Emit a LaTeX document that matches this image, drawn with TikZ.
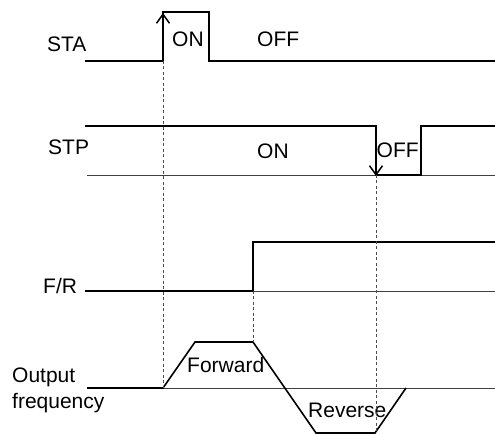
\documentclass[tikz,border=0pt]{standalone}
\usepackage{fontspec}
\setmainfont{Liberation Sans}
\usepackage{tikz}
\usetikzlibrary{positioning, arrows.meta}

\tikzset{
    signal/.style={line width=1.6pt, line join=miter},
    refline/.style={line width=0.7pt, black!75},
    guide/.style={dash pattern=on 3pt off 2.5pt, black!70, line width=0.7pt},
    edgearrow/.style={line width=1.5pt, -{Straight Barb[length=9pt, width=13pt]}},
    lbl/.style={inner sep=0pt, anchor=base west, font=\fontsize{21}{25}\selectfont},
}

\begin{document}
\begin{tikzpicture}[x=1pt, y=-1pt]
        \useasboundingbox (0,0) rectangle (495,435);

        % Key points of the edges
        \coordinate (starise) at (163,61);
        \coordinate (stahigh) at (163,13);
        \coordinate (stptop) at (376,126);
        \coordinate (stpfall) at (376,175);
        \coordinate (frrise) at (253,291);
        \coordinate (fwdend) at (253,342);
        \coordinate (outstart) at (163,388);
        \coordinate (revend) at (376,433);

        % STA
        \draw[signal] (85,61) -- (163,61) -- (163,12) -- (209,12) -- (209,61) -- (495,61);
        \draw[edgearrow] (starise) -- (stahigh);
        \node[lbl] (sta) at (47,52) {STA};
        \node[lbl] (staon) at (172,47) {ON};
        \node[lbl] (staoff) at (257,47) {OFF};

        % STP
        \draw[refline] (87,175) -- (495,175);
        \draw[signal] (85,126) -- (376,126) -- (376,175) -- (421,175) -- (421,126) -- (495,126);
        \draw[edgearrow] (stptop) -- ([yshift=-1pt]stpfall);
        \node[lbl] (stp) at (48,155) {STP};
        \node[lbl] (stpon) at (257,159) {ON};
        \node[lbl] (stpoff) at (376.5,158) {OFF};

        % F/R
        \draw[refline] (253,291) -- (495,291);
        \draw[signal] (85,291) -- (253,291) -- (253,242) -- (495,242);
        \node[lbl] (fr) at (43,294) {F/R};

        % Output frequency
        \draw[refline] (87,388) -- (495,388);
        \draw[signal] (87,388) -- (163,388) -- (195,342) -- (253,342)
            -- (316,433) -- (375,433) -- (406,388);
        \node[lbl] (outa) at (12,382) {Output};
        \node[lbl] (outb) at (12,408) {frequency};
        \node[lbl] (fwd) at (187,372) {Forward};
        \node[lbl] (rev) at (308,417) {Reverse};

        % Dashed guides
        \draw[guide] (starise) -- (outstart);
        \draw[guide] (stpfall) -- (revend);
        \draw[guide] (frrise) -- (fwdend);
    \end{tikzpicture}
\end{document}
